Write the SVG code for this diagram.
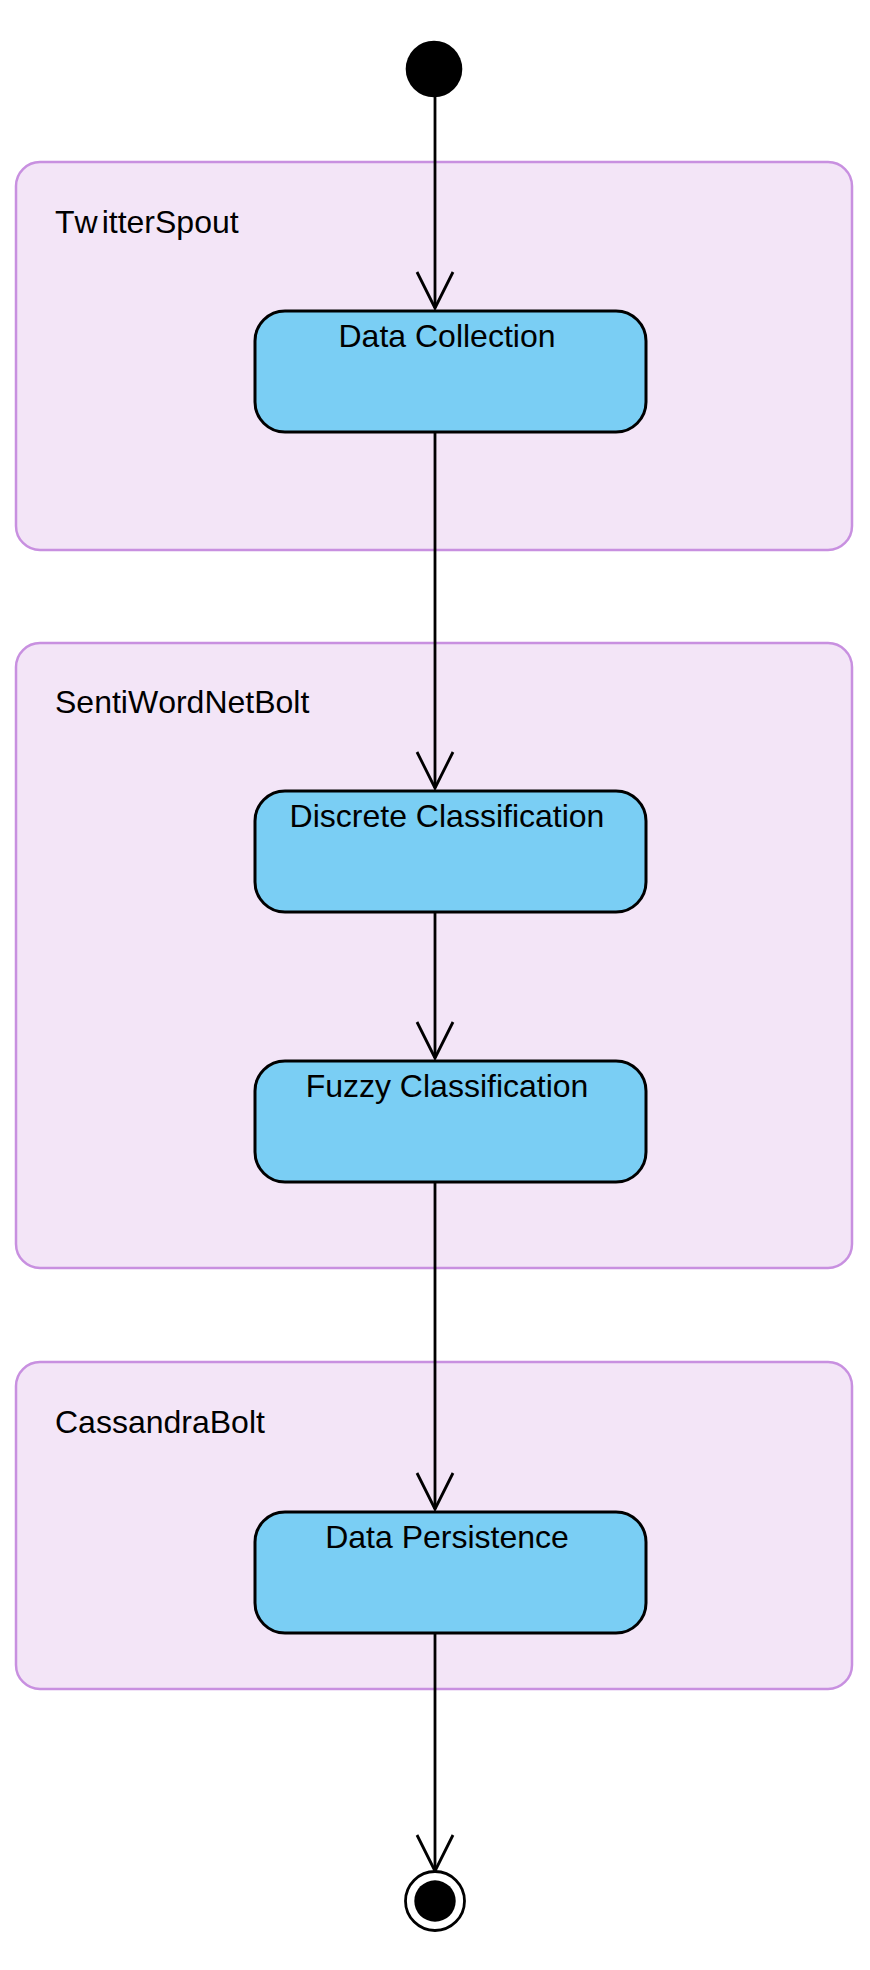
<svg xmlns="http://www.w3.org/2000/svg" width="870" height="1970" viewBox="0 0 870 1970">
  <style>
    .partition { fill: #f3e5f7; stroke: #c890e0; stroke-width: 2.5; }
    .plabel { font-family: "Liberation Sans", Arial, sans-serif; font-size: 32px; fill: #000; font-kerning: none; }
    .action { fill: #7acef4; stroke: #000; stroke-width: 3; }
    .atext { font-family: "Liberation Sans", Arial, sans-serif; font-size: 32px; fill: #000; text-anchor: middle; }
    .flow { stroke: #000; stroke-width: 2.8; fill: none; marker-end: url(#open); }
  </style>
  <defs>
    <marker id="open" markerUnits="userSpaceOnUse" markerWidth="60" markerHeight="60" refX="0" refY="0" orient="auto" overflow="visible">
      <path d="M -36 -18 L 0 0 L -36 18" fill="none" stroke="#000" stroke-width="2.8" stroke-linejoin="miter"/>
    </marker>
  </defs>

  <rect width="870" height="1970" fill="#ffffff"/>

  <g id="partition-twitterspout">
    <rect class="partition" x="16" y="162" width="836" height="388" rx="24" ry="24"/>
    <text class="plabel" x="55" y="233">Tw<tspan dx="4">itterSpout</tspan></text>
  </g>
  <g id="partition-sentiwordnetbolt">
    <rect class="partition" x="16" y="643" width="836" height="625" rx="24" ry="24"/>
    <text class="plabel" x="55" y="713">SentiWordNetBolt</text>
  </g>
  <g id="partition-cassandrabolt">
    <rect class="partition" x="16" y="1362" width="836" height="327" rx="24" ry="24"/>
    <text class="plabel" x="55" y="1433">CassandraBolt</text>
  </g>

  <g id="connectors">
    <line class="flow" x1="435" y1="96" x2="435" y2="308"/>
    <line class="flow" x1="435" y1="432" x2="435" y2="788"/>
    <line class="flow" x1="435" y1="912" x2="435" y2="1058"/>
    <line class="flow" x1="435" y1="1182" x2="435" y2="1509"/>
    <line class="flow" x1="435" y1="1633" x2="435" y2="1871"/>
  </g>

  <g id="start">
    <circle cx="434" cy="69" r="28.3" fill="#000"/>
  </g>

  <g id="node-data-collection">
    <rect class="action" x="255" y="311" width="391" height="121" rx="30" ry="30"/>
    <text class="atext" x="447" y="347">Data Collection</text>
  </g>
  <g id="node-discrete-classification">
    <rect class="action" x="255" y="791" width="391" height="121" rx="30" ry="30"/>
    <text class="atext" x="447" y="827">Discrete Classification</text>
  </g>
  <g id="node-fuzzy-classification">
    <rect class="action" x="255" y="1061" width="391" height="121" rx="30" ry="30"/>
    <text class="atext" x="447" y="1097">Fuzzy Classification</text>
  </g>
  <g id="node-data-persistence">
    <rect class="action" x="255" y="1512" width="391" height="121" rx="30" ry="30"/>
    <text class="atext" x="447" y="1548">Data Persistence</text>
  </g>

  <g id="end">
    <circle cx="435" cy="1901" r="29.5" fill="#ffffff" stroke="#000" stroke-width="2.8"/>
    <circle cx="435" cy="1901" r="20.7" fill="#000"/>
  </g>
</svg>
